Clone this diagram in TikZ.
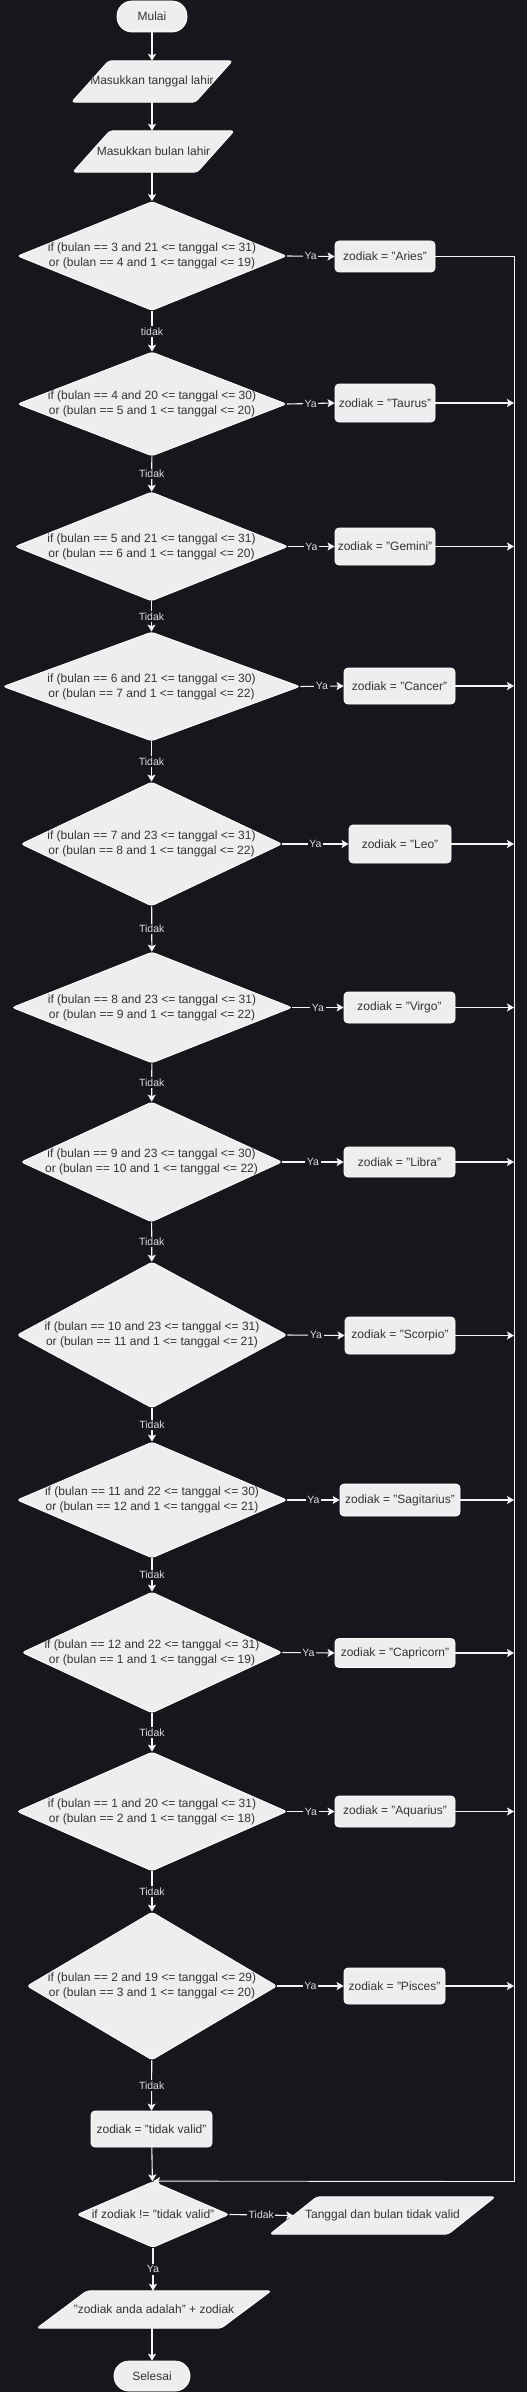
\documentclass[tikz,border=0pt]{standalone}
\usepackage{fontspec}
\setmainfont{Liberation Sans}
\usetikzlibrary{shapes.geometric,arrows.meta}
\pgfdeclarelayer{bglayer}
\pgfdeclarelayer{shapelayer}
\pgfsetlayers{bglayer,shapelayer,main}
\definecolor{bgc}{HTML}{18151D}
\definecolor{nodefill}{HTML}{EEEEEE}
\definecolor{nodestroke}{HTML}{FFFFFF}
\definecolor{nodetext}{HTML}{333333}
\definecolor{linecol}{HTML}{F4F4F4}
\definecolor{lblcol}{HTML}{DDDDDD}
\tikzset{
  base/.style={draw=nodestroke, fill=nodefill, line width=0.8pt, text=nodetext,
    font=\fontsize{12}{15}\selectfont, inner sep=0pt, align=center},
  procbox/.style={base, rectangle, rounded corners=4pt},
  termbox/.style={base, rectangle, rounded corners=15pt},
  iotext/.style={rectangle, text=nodetext, font=\fontsize{12}{15}\selectfont, inner sep=0pt, align=center},
  ioshape/.style={draw=nodestroke, fill=nodefill, line width=0.8pt, rounded corners=3pt},
  decision/.style={base, diamond, rounded corners=3pt},
  dtext/.style={text=nodetext, font=\fontsize{12}{15}\selectfont, align=center, inner sep=0pt},
  conn/.style={draw=linecol, line width=1.1pt, -{Stealth[length=7pt,width=8pt,inset=1.5pt]}},
  plainline/.style={draw=linecol, line width=1.1pt},
  lbl/.style={fill=bgc, text=lblcol, font=\fontsize{10.5}{12}\selectfont, inner sep=1.5pt}
}
\newcommand{\ioshp}[2]{%
  \begin{pgfonlayer}{shapelayer}
  \draw[ioshape] ([xshift=#2/2]#1.north west) -- ([xshift=#2/2]#1.north east)
     -- ([xshift=-#2/2]#1.south east) -- ([xshift=-#2/2]#1.south west) -- cycle;
  \end{pgfonlayer}}
\begin{document}
\begin{tikzpicture}[x=1pt,y=-1pt]
\useasboundingbox (0,0) rectangle (527,2392);
\begin{pgfonlayer}{bglayer}
\fill[bgc] (0,0) rectangle (527,2392);
\end{pgfonlayer}

% top
\node[termbox, minimum width=70pt, minimum height=31pt] (mulai) at (152,16.5) {Mulai};
\node[iotext, minimum width=123pt, minimum height=41pt] (in1) at (152,81.5) {Masukkan tanggal lahir};
\ioshp{in1}{37}
\node[iotext, minimum width=124pt, minimum height=41pt] (in2) at (153.5,151.5) {Masukkan bulan lahir};
\ioshp{in2}{37}

% decisions
\node[decision, minimum width=269pt, minimum height=109pt] (d1) at (152,256) {};
\node[dtext] (t1) at (d1) {if (bulan == 3 and 21 <= tanggal <= 31)\\or (bulan == 4 and 1 <= tanggal <= 19)};
\node[decision, minimum width=269pt, minimum height=104pt] (d2) at (152,404) {};
\node[dtext] (t2) at (d2) {if (bulan == 4 and 20 <= tanggal <= 30)\\or (bulan == 5 and 1 <= tanggal <= 20)};
\node[decision, minimum width=273pt, minimum height=109pt] (d3) at (151.5,546.5) {};
\node[dtext] (t3) at (d3) {if (bulan == 5 and 21 <= tanggal <= 31)\\or (bulan == 6 and 1 <= tanggal <= 20)};
\node[decision, minimum width=297pt, minimum height=109pt] (d4) at (151.5,686.5) {};
\node[dtext] (t4) at (d4) {if (bulan == 6 and 21 <= tanggal <= 30)\\or (bulan == 7 and 1 <= tanggal <= 22)};
\node[decision, minimum width=261pt, minimum height=124pt] (d5) at (151.5,844) {};
\node[dtext] (t5) at (d5) {if (bulan == 7 and 23 <= tanggal <= 31)\\or (bulan == 8 and 1 <= tanggal <= 22)};
\node[decision, minimum width=280pt, minimum height=111pt] (d6) at (152,1007.5) {};
\node[dtext] (t6) at (d6) {if (bulan == 8 and 23 <= tanggal <= 31)\\or (bulan == 9 and 1 <= tanggal <= 22)};
\node[decision, minimum width=261pt, minimum height=120pt] (d7) at (151.5,1162) {};
\node[dtext] (t7) at (d7) {if (bulan == 9 and 23 <= tanggal <= 30)\\or (bulan == 10 and 1 <= tanggal <= 22)};
\node[decision, minimum width=270pt, minimum height=146pt] (d8) at (152,1335) {};
\node[dtext] (t8) at (d8) {if (bulan == 10 and 23 <= tanggal <= 31)\\or (bulan == 11 and 1 <= tanggal <= 21)};
\node[decision, minimum width=270pt, minimum height=116pt] (d9) at (152,1500) {};
\node[dtext] (t9) at (d9) {if (bulan == 11 and 22 <= tanggal <= 30)\\or (bulan == 12 and 1 <= tanggal <= 21)};
\node[decision, minimum width=260pt, minimum height=121pt] (d10) at (152,1652.5) {};
\node[dtext] (t10) at (d10) {if (bulan == 12 and 22 <= tanggal <= 31)\\or (bulan == 1 and 1 <= tanggal <= 19)};
\node[decision, minimum width=270pt, minimum height=119pt] (d11) at (152,1811.5) {};
\node[dtext] (t11) at (d11) {if (bulan == 1 and 20 <= tanggal <= 31)\\or (bulan == 2 and 1 <= tanggal <= 18)};
\node[decision, minimum width=250pt, minimum height=148pt] (d12) at (152,1986) {};
\node[dtext] (t12) at (d12) {if (bulan == 2 and 19 <= tanggal <= 29)\\or (bulan == 3 and 1 <= tanggal <= 20)};

% result boxes
\node[procbox, minimum width=100pt, minimum height=31pt] (aries) at (385,256.5) {zodiak = "Aries"};
\node[procbox, minimum width=100pt, minimum height=38pt] (taurus) at (385,403) {zodiak = "Taurus"};
\node[procbox, minimum width=100pt, minimum height=37pt] (gemini) at (385,546.5) {zodiak = "Gemini"};
\node[procbox, minimum width=111pt, minimum height=36pt] (cancer) at (399.5,686) {zodiak = "Cancer"};
\node[procbox, minimum width=102pt, minimum height=38pt] (leo) at (400,844) {zodiak = "Leo"};
\node[procbox, minimum width=111pt, minimum height=31pt] (virgo) at (399.5,1007.5) {zodiak = "Virgo"};
\node[procbox, minimum width=111pt, minimum height=30pt] (libra) at (399.5,1162) {zodiak = "Libra"};
\node[procbox, minimum width=110pt, minimum height=37pt] (scorpio) at (400,1335.5) {zodiak = "Scorpio"};
\node[procbox, minimum width=120pt, minimum height=32pt] (sagit) at (400,1500) {zodiak = "Sagitarius"};
\node[procbox, minimum width=120pt, minimum height=29pt] (capri) at (395,1653) {zodiak = "Capricorn"};
\node[procbox, minimum width=120pt, minimum height=31pt] (aquar) at (395,1811.5) {zodiak = "Aquarius"};
\node[procbox, minimum width=101pt, minimum height=36pt] (pisces) at (394.5,1986) {zodiak = "Pisces"};

% bottom
\node[procbox, minimum width=121pt, minimum height=36pt] (invalid) at (151.5,2129) {zodiak = "tidak valid"};
\node[decision, minimum width=152pt, minimum height=66pt] (d13) at (153,2214.5) {};
\node[dtext] (t13) at (d13) {if zodiak != "tidak valid"};
\node[iotext, minimum width=178pt, minimum height=37pt] (out1) at (382.5,2215.5) {Tanggal dan bulan tidak valid};
\ioshp{out1}{47}
\node[iotext, minimum width=184pt, minimum height=37pt] (out2) at (154,2309.5) {"zodiak anda adalah" + zodiak};
\ioshp{out2}{50}
\node[termbox, minimum width=76pt, minimum height=30pt] (selesai) at (152,2376) {Selesai};

% trunk coordinates
\coordinate (trtop) at (514,256.5);
\coordinate (trbot) at (514,2181.5);

% main flow
\draw[conn] (mulai) -- (in1.north -| mulai);
\draw[conn] (in1.south -| mulai) -- (in2.north -| mulai);
\draw[conn] (in2.south -| mulai) -- (d1);
\draw[conn] (d1) -- node[lbl] (l1) {tidak} (d2);
\draw[conn] (d2) -- node[lbl] (l2) {Tidak} (d3);
\draw[conn] (d3) -- node[lbl] (l3) {Tidak} (d4);
\draw[conn] (d4) -- node[lbl] (l4) {Tidak} (d5);
\draw[conn] (d5) -- node[lbl] (l5) {Tidak} (d6);
\draw[conn] (d6) -- node[lbl] (l6) {Tidak} (d7);
\draw[conn] (d7) -- node[lbl] (l7) {Tidak} (d8);
\draw[conn] (d8) -- node[lbl] (l8) {Tidak} (d9);
\draw[conn] (d9) -- node[lbl] (l9) {Tidak} (d10);
\draw[conn] (d10) -- node[lbl] (l10) {Tidak} (d11);
\draw[conn] (d11) -- node[lbl] (l11) {Tidak} (d12);
\draw[conn] (d12) -- node[lbl] (l12) {Tidak} (invalid);
\draw[conn] (invalid) -- (d13);
\draw[conn] (d13.east) -- node[lbl] (l13) {Tidak} (out1.west);
\draw[conn] (d13.south) -- node[lbl] (l14) {Ya} (out2.north -| d13.south);
\draw[conn] (out2.south -| selesai.north) -- (selesai);

% Ya branches
\draw[conn] (d1.east) -- node[lbl] (y1) {Ya} (aries.west);
\draw[conn] (d2.east) -- node[lbl] (y2) {Ya} (taurus.west);
\draw[conn] (d3.east) -- node[lbl] (y3) {Ya} (gemini.west);
\draw[conn] (d4.east) -- node[lbl] (y4) {Ya} (cancer.west);
\draw[conn] (d5.east) -- node[lbl] (y5) {Ya} (leo.west);
\draw[conn] (d6.east) -- node[lbl] (y6) {Ya} (virgo.west);
\draw[conn] (d7.east) -- node[lbl] (y7) {Ya} (libra.west);
\draw[conn] (d8.east) -- node[lbl] (y8) {Ya} (scorpio.west);
\draw[conn] (d9.east) -- node[lbl] (y9) {Ya} (sagit.west);
\draw[conn] (d10.east) -- node[lbl] (y10) {Ya} (capri.west);
\draw[conn] (d11.east) -- node[lbl] (y11) {Ya} (aquar.west);
\draw[conn] (d12.east) -- node[lbl] (y12) {Ya} (pisces.west);

% to trunk
\draw[plainline, line width=0.9pt] (aries.east) -- (trtop) -- (trbot);
\draw[conn, line width=0.9pt] (trbot) -- (d13.north);
\draw[conn] (taurus.east) -- (taurus.east -| trtop);
\draw[conn] (gemini.east) -- (gemini.east -| trtop);
\draw[conn] (cancer.east) -- (cancer.east -| trtop);
\draw[conn] (leo.east) -- (leo.east -| trtop);
\draw[conn] (virgo.east) -- (virgo.east -| trtop);
\draw[conn] (libra.east) -- (libra.east -| trtop);
\draw[conn] (scorpio.east) -- (scorpio.east -| trtop);
\draw[conn] (sagit.east) -- (sagit.east -| trtop);
\draw[conn] (capri.east) -- (capri.east -| trtop);
\draw[conn] (aquar.east) -- (aquar.east -| trtop);
\draw[conn] (pisces.east) -- (pisces.east -| trtop);
\end{tikzpicture}
\end{document}
